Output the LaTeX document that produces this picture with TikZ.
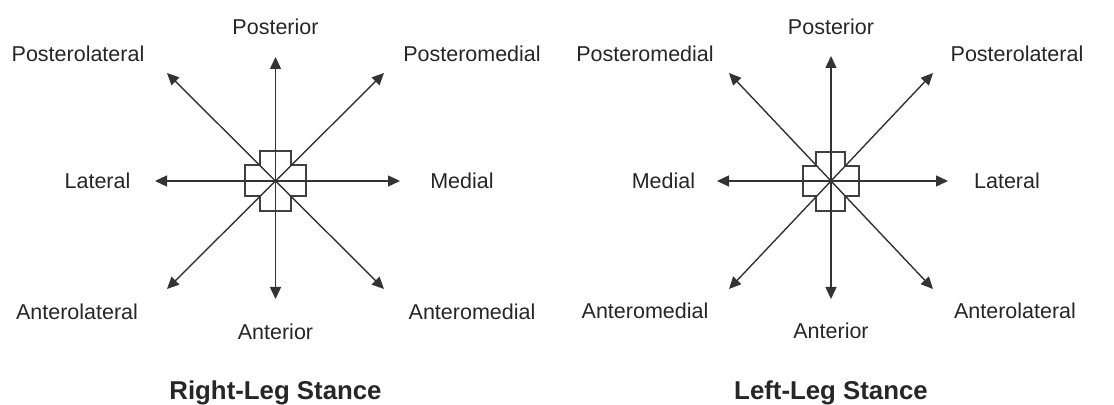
\documentclass[tikz,border=0pt]{standalone}
\usepackage{fontspec}
\setmainfont{Liberation Sans}
\usepackage{tikz}
\usetikzlibrary{arrows.meta,positioning}

\begin{document}
\begin{tikzpicture}[x=0.5pt, y=-0.5pt,
  dir/.style = {line width=0.7pt, draw=black!80, -{Triangle[length=6pt,width=5.5pt]}},
  foot/.style = {line width=0.6pt, draw=black!75},
  lbl/.style = {inner sep=0pt, anchor=base, font=\fontsize{10.75}{12}\selectfont, text=black!85},
  ttl/.style = {inner sep=0pt, anchor=base, font=\fontsize{12.9}{14}\selectfont\bfseries, text=black!85}]
\useasboundingbox (0,0) rectangle (1114,405);

% right-leg stance
\coordinate (rC) at (275.5,181);
\coordinate (rN) at (275.5,57);
\coordinate (rS) at (275.5,299);
\coordinate (rW) at (155,181);
\coordinate (rE) at (400,181);
\coordinate (rNW) at (167,73);
\coordinate (rNE) at (384,73);
\coordinate (rSW) at (167,289);
\coordinate (rSE) at (384,289);
\draw[foot] (260,151) -- (291,151) -- (291,165) -- (306,165) -- (306,196) -- (291,196) -- (291,211)
  -- (260,211) -- (260,196) -- (245,196) -- (245,165) -- (260,165) -- cycle;
\foreach \d in {N,S,W,E,NW,NE,SW,SE}
  \draw[dir] (rC) -- (r\d);

\node (rPost) [lbl] at (275.5,34.5) {Posterior};
\node (rPostLat) [lbl] at (78,61.7) {Posterolateral};
\node (rPostMed) [lbl] at (472,61.2) {Posteromedial};
\node (rLat) [lbl] at (97.5,188.5) {Lateral};
\node (rMed) [lbl] at (462,188.5) {Medial};
\node (rAntLat) [lbl] at (77,319.5) {Anterolateral};
\node (rAntMed) [lbl] at (472,319.5) {Anteromedial};
\node (rAnt) [lbl] at (275.5,339.5) {Anterior};
\node (rTitle) [ttl] at (275.5,400) {Right-Leg Stance};

% left-leg stance
\coordinate (lC) at (831,181);
\coordinate (lN) at (831,56);
\coordinate (lS) at (831,299);
\coordinate (lW) at (717,181);
\coordinate (lE) at (948,181);
\coordinate (lNW) at (729,73);
\coordinate (lNE) at (933,73);
\coordinate (lSW) at (729,289);
\coordinate (lSE) at (933,289);
\draw[foot] (816,152) -- (845,152) -- (845,166) -- (859,166) -- (859,196) -- (845,196) -- (845,211)
  -- (816,211) -- (816,196) -- (803,196) -- (803,166) -- (816,166) -- cycle;
\foreach \d in {N,S,W,E,NW,NE,SW,SE}
  \draw[dir] (lC) -- (l\d);

\node (lPost) [lbl] at (831,34.5) {Posterior};
\node (lPostMed) [lbl] at (645,61.5) {Posteromedial};
\node (lPostLat) [lbl] at (1017,61.5) {Posterolateral};
\node (lMed) [lbl] at (663.5,188.5) {Medial};
\node (lLat) [lbl] at (1007,188.5) {Lateral};
\node (lAntMed) [lbl] at (645,319) {Anteromedial};
\node (lAntLat) [lbl] at (1015,319) {Anterolateral};
\node (lAnt) [lbl] at (831,339) {Anterior};
\node (lTitle) [ttl] at (831,400) {Left-Leg Stance};
\end{tikzpicture}
\end{document}
